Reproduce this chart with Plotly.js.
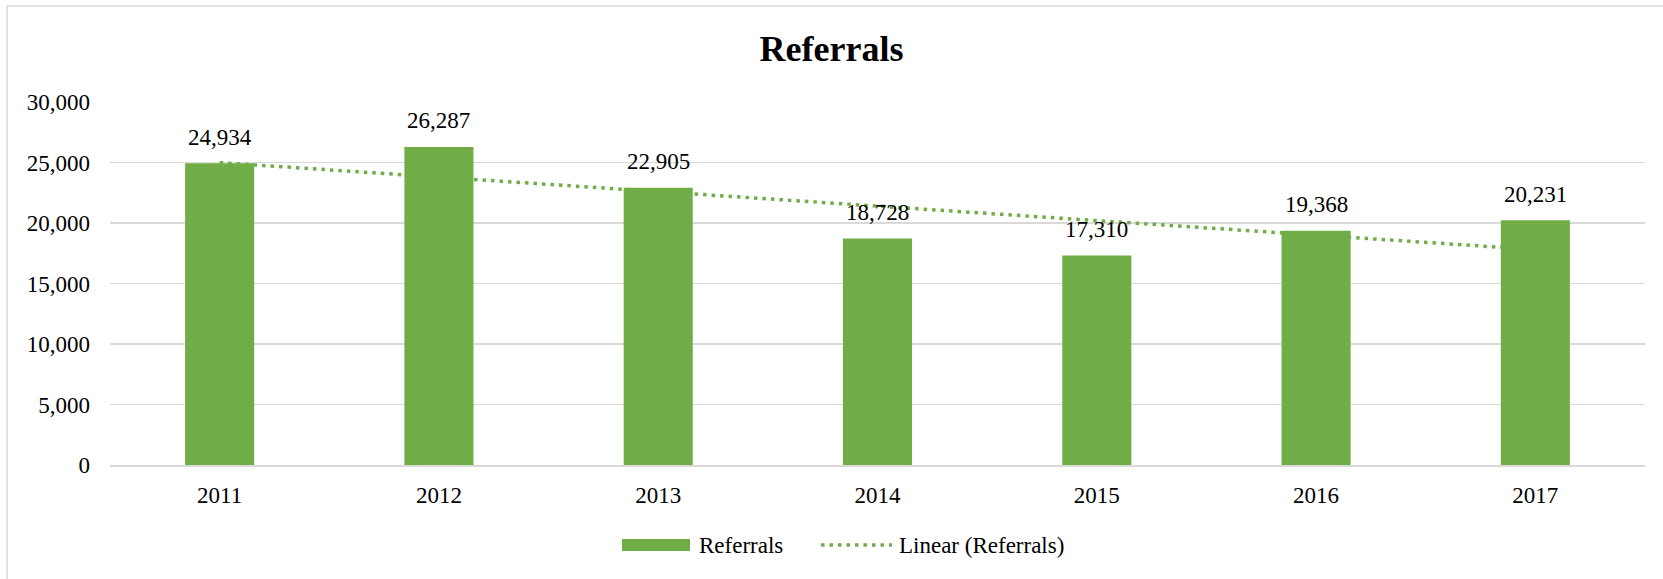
<!DOCTYPE html>
<html>
<head>
<meta charset="utf-8">
<script src="https://cdn.plot.ly/plotly-3.0.1.min.js"></script>
<style>html,body{margin:0;padding:0;background:#fff;}#chart{width:1663px;height:579px;}</style>
</head>
<body>
<div id="chart"></div>
<script>
const years = ['2011', '2012', '2013', '2014', '2015', '2016', '2017'];
const referrals = [24934, 26287, 22905, 18728, 17310, 19368, 20231];
const trendYears = ['2011', '2017'];
const trendValues = [24989, 17801];
const yTickVals = [0, 5000, 10000, 15000, 20000, 25000, 30000];

const green = '#70AD47';
const font = 'Liberation Serif, Times New Roman, serif';

const traces = [
  {
    type: 'bar', x: years, y: referrals, name: 'Referrals',
    marker: {color: green}, width: 0.315, hoverinfo: 'x+y'
  },
  {
    type: 'scatter', mode: 'lines', x: trendYears, y: trendValues, name: 'Linear (Referrals)',
    line: {color: green, width: 3.5, dash: '3.5px,5px'}
  }
];

const annotations = years.map((yr, i) => ({
  x: i, y: referrals[i], xref: 'x', yref: 'y',
  text: referrals[i].toLocaleString('en-US'),
  showarrow: false, yanchor: 'middle', yshift: 26,
  font: {family: font, size: 23, color: '#000'}
}));

// custom legend
const L = 110, W = 1535, B = 465, H = 363;
const px = v => (v - L) / W;
const py = v => (B - v) / H;
annotations.push({
  xref: 'paper', yref: 'paper', x: px(697), y: py(545), xanchor: 'left', yanchor: 'middle',
  text: 'Referrals', showarrow: false, font: {family: font, size: 23, color: '#000'}
});
annotations.push({
  xref: 'paper', yref: 'paper', x: px(897), y: py(545), xanchor: 'left', yanchor: 'middle',
  text: 'Linear (Referrals)', showarrow: false, font: {family: font, size: 23, color: '#000'}
});

const shapes = [
  {type: 'rect', xref: 'paper', yref: 'paper', x0: px(622), x1: px(690), y0: py(551), y1: py(539),
   fillcolor: green, line: {width: 0}},
  {type: 'line', xref: 'paper', yref: 'paper', x0: px(821), x1: px(892), y0: py(545), y1: py(545),
   line: {color: green, width: 3.5, dash: '3.5px,5px'}},
  {type: 'path', xref: 'paper', yref: 'paper',
   path: `M ${px(7)} ${py(579)} L ${px(7)} ${py(6)} L ${px(1663)} ${py(6)}`,
   line: {color: '#D9D9D9', width: 1.5}}
];

const layout = {
  width: 1663, height: 579,
  margin: {l: 110, r: 18, t: 102, b: 114},
  paper_bgcolor: '#fff', plot_bgcolor: '#fff',
  showlegend: false,
  title: {text: '<b>Referrals</b>', x: 0.5, xanchor: 'center', y: 1 - 48 / 579, yanchor: 'middle',
          font: {family: font, size: 36, color: '#000'}},
  xaxis: {type: 'category', categoryorder: 'array', categoryarray: years, range: [-0.5, years.length - 0.5],
          showgrid: false, showline: true, linecolor: '#D9D9D9', linewidth: 1.5,
          ticks: '', tickfont: {family: font, size: 23, color: '#000'}, ticklabelstandoff: 9},
  yaxis: {range: [0, 30000], tickvals: yTickVals, tickformat: ',d', showgrid: true,
          gridcolor: '#D9D9D9', gridwidth: 1.5, zeroline: false, showline: false, ticks: '',
          tickfont: {family: font, size: 23, color: '#000'}, ticklabelstandoff: 19},
  bargap: 0.685,
  annotations: annotations,
  shapes: shapes
};

Plotly.newPlot('chart', traces, layout, {displayModeBar: false, staticPlot: true});
</script>
</body>
</html>
